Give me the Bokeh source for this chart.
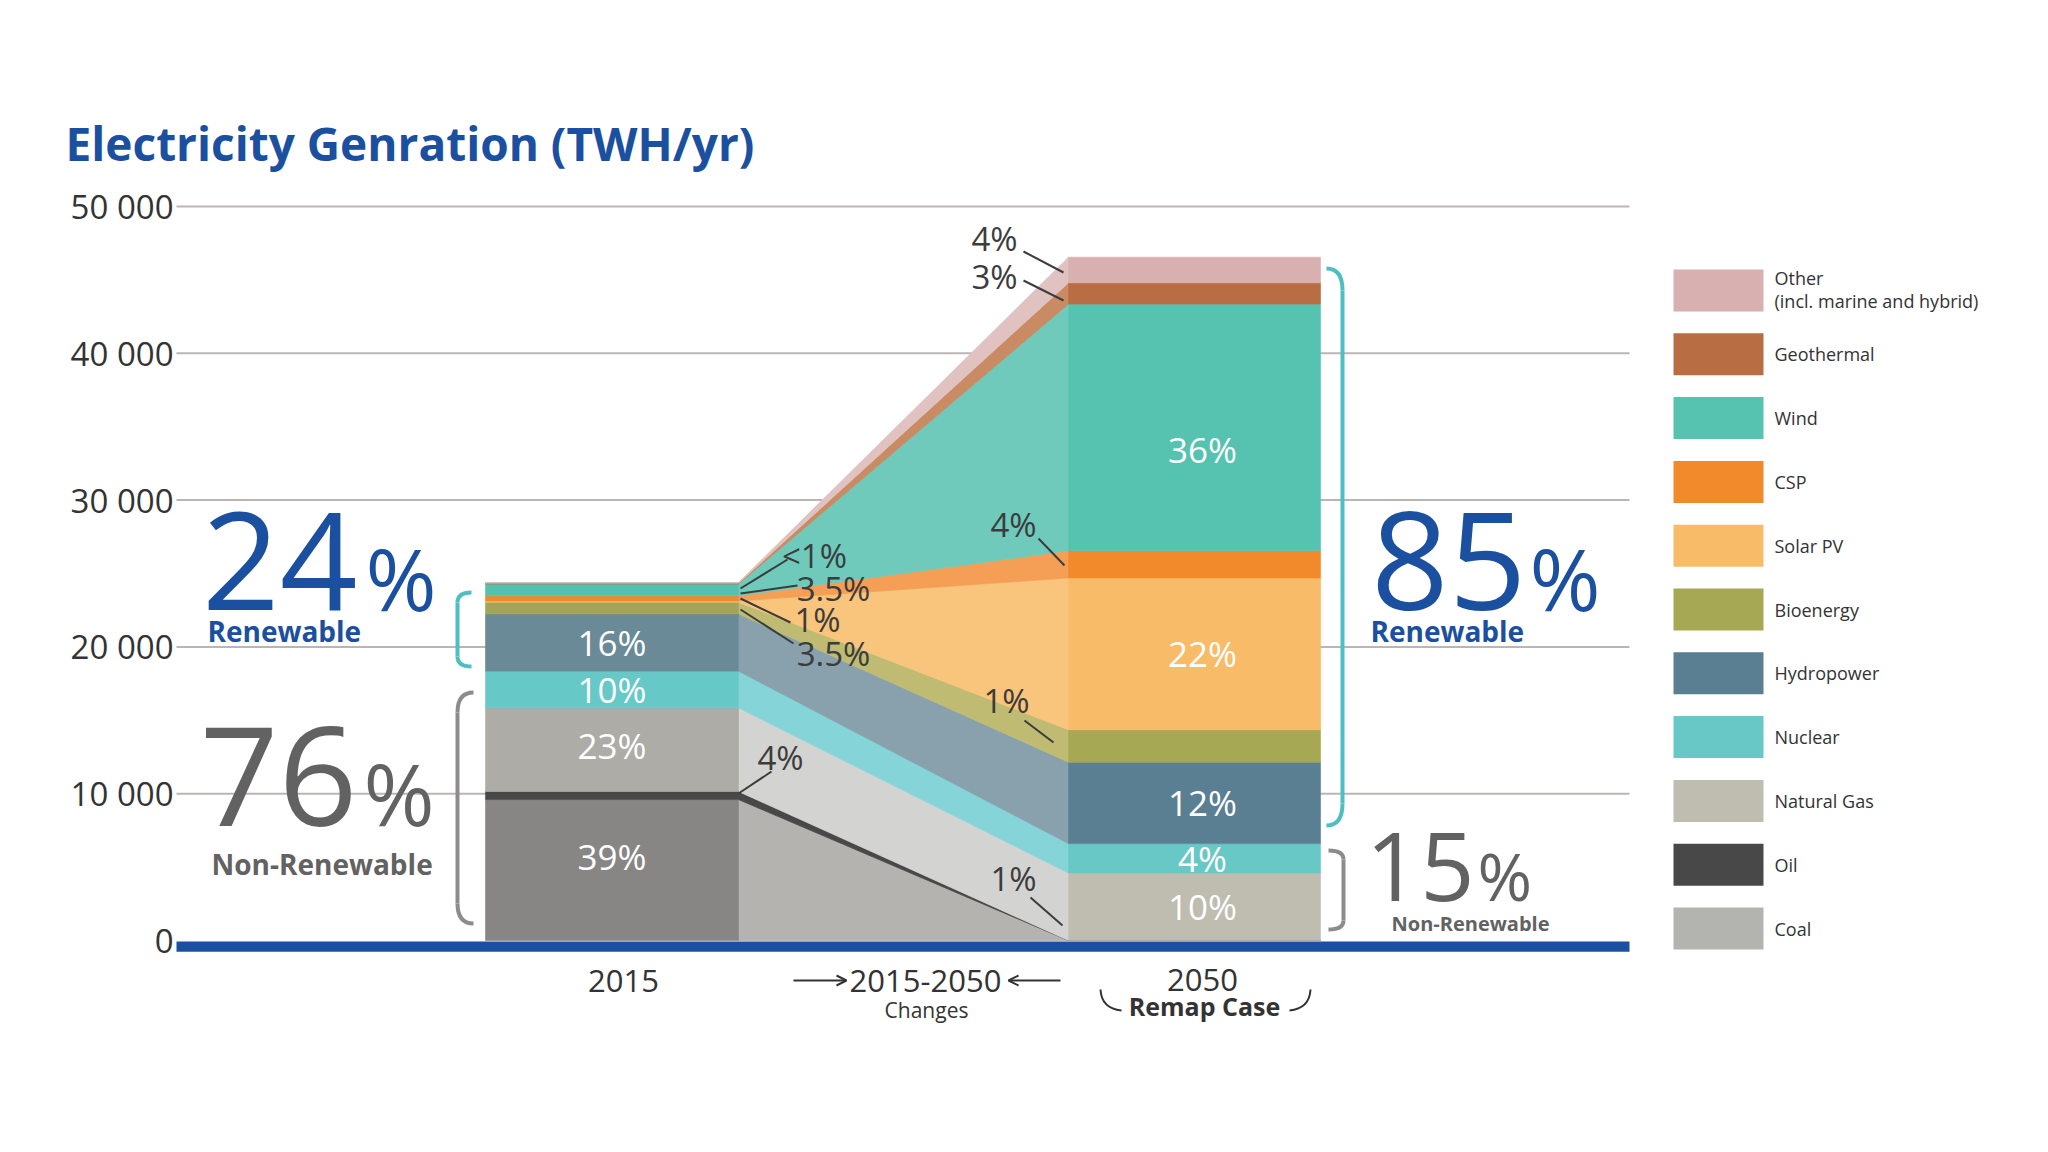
import numpy as np
from bokeh.plotting import figure
from bokeh.models import Range1d, ColumnDataSource, Arrow, OpenHead
from bokeh.core.properties import value
from bokeh.embed import file_html
from bokeh.resources import INLINE

# ---------------- data (TWh/yr) ----------------
sources = ["Coal", "Oil", "Natural Gas", "Nuclear", "Hydropower", "Bioenergy",
           "Solar PV", "CSP", "Wind", "Geothermal", "Other"]
twh_2015 = [9600, 550, 5700, 2500, 3900, 800, 80, 350, 800, 60, 40]
twh_2050 = [0, 0, 4600, 2000, 5550, 2200, 10350, 1850, 16800, 1450, 1750]
share_2015 = ["39%", "", "23%", "10%", "16%", "", "", "", "", "", ""]
share_2050 = ["", "", "10%", "4%", "12%", "", "22%", "", "36%", "", ""]
legend_labels = ["Other", "Geothermal", "Wind", "CSP", "Solar PV", "Bioenergy",
                 "Hydropower", "Nuclear", "Natural Gas", "Oil", "Coal"]
y_ticks = [0, 10000, 20000, 30000, 40000, 50000]
y_tick_labels = ["0", "10 000", "20 000", "30 000", "40 000", "50 000"]
change_labels = ["4%", "3%", "4%", "<1%", "3.5%", "1%", "3.5%", "4%", "1%", "1%"]
renew_2015, nonrenew_2015 = "24", "76"
renew_2050, nonrenew_2050 = "85", "15"
title = "Electricity Genration (TWH/yr)"

# ---------------- styles / layout ----------------
col_2015 = ["#878684", "#484848", "#adaca6", "#66c8c7", "#6a8a98", "#a4a35a",
            "#f7bc6c", "#f08a2e", "#55c2b0", "#b86e42", "#dab2b2"]
col_tr = ["#b4b3b0", "#484848", "#d3d3d1", "#85d4d8", "#88a1ac", "#bfbb72",
          "#f9c47c", "#f49f55", "#70cabc", "#c98b63", "#e0c2c1"]
col_2050 = ["#b3b3b0", "#484848", "#bebdb0", "#68c8c6", "#5a7f93", "#a6a854",
            "#f8bb68", "#f28a2c", "#55c3b0", "#b86e42", "#d9b0b0"]
dy_2015 = [-14, 0, -4, 0, 0, 0, 0, 0, 0, 0, 0]
dy_2050 = [0, 0, 0, 0, 0, 0, 0, 0, 22, 0, 0]

FONT = "Open Sans"
BLUE = "#1b4f9f"
GRAY = "#626262"
DARK = "#3c3c3c"
W, H = 2048, 1152
ZERO_PX, TOP_PX = 940, 206
PXPER = (ZERO_PX - TOP_PX) / 50000.0
X0_15, X1_15 = 485, 738
X0_50, X1_50 = 1068, 1320
GX0, GX1 = 176, 1629
BL = 0.32  # baseline correction (fraction of font size)

p = figure(width=W, height=H, x_range=Range1d(0, W),
           y_range=Range1d(-(H - ZERO_PX) / PXPER, ZERO_PX / PXPER),
           x_axis_type=None, y_axis_type=None, output_backend="svg",
           toolbar_location=None, min_border=0, outline_line_color=None,
           background_fill_color="white", border_fill_color="white")
p.extra_y_ranges = {"px": Range1d(H, 0)}

# gridlines and tick labels
gt = [t for t in y_ticks if t > 0]
p.segment(x0=GX0, y0=gt, x1=GX1, y1=gt, line_color="#bbb6b4", line_width=2)
p.text(x=[173] * len(y_ticks), y=y_ticks, text=y_tick_labels, text_align="right",
       text_baseline="middle", text_font=value(FONT), text_font_size="33px",
       text_color="#333333")

# stacked bars + transition band
c15 = np.concatenate([[0], np.cumsum(twh_2015)])
c50 = np.concatenate([[0], np.cumsum(twh_2050)])
n = len(sources)
xs = [[X1_15, X0_50, X0_50, X1_15] for _ in range(n)]
ys = [[c15[i], c50[i], c50[i + 1], c15[i + 1]] for i in range(n)]
p.patches(xs=xs, ys=ys, fill_color=col_tr, line_color=col_tr, line_width=0.8)
p.quad(left=X0_15, right=X1_15, bottom=c15[:-1], top=c15[1:],
       fill_color=col_2015, line_color=col_2015, line_width=0.6)
p.quad(left=X0_50, right=X1_50, bottom=c50[:-1], top=c50[1:],
       fill_color=col_2050, line_color=col_2050, line_width=0.6)

# blue baseline
p.quad(left=GX0, right=GX1, top=-60, bottom=-760, fill_color=BLUE, line_color=None)

# in-bar share labels
def bar_labels(cum, shares, dys, xc):
    idx = [i for i, s in enumerate(shares) if s]
    src = ColumnDataSource(dict(
        x=[xc] * len(idx),
        y=[(cum[i] + cum[i + 1]) / 2 for i in idx],
        t=[shares[i] for i in idx],
        dy=[dys[i] for i in idx]))
    p.text(x="x", y="y", text="t", y_offset="dy", source=src, text_align="center",
           text_baseline="middle", text_font=value(FONT), text_font_size="35px",
           text_color="white")

bar_labels(c15, share_2015, dy_2015, (X0_15 + X1_15) / 2)
bar_labels(c50, share_2050, dy_2050, (X0_50 + X1_50) / 2 + 8)

# leader labels for the transition (positions in screen px)
lead_pos = [(994, 238, 1023, 251, 1063, 272),
            (994, 276, 1023, 280, 1063, 300),
            (1013, 524, 1038, 538, 1064, 565),
            (814, 555, 740, 588, 787, 559),
            (833, 588, 740, 593, 797, 585),
            (817, 619, 740, 598, 790, 622),
            (833, 653, 740, 609, 793, 643),
            (780, 757, 738, 793, 771, 771),
            (1006, 700, 1024, 720, 1053, 742),
            (1013, 878, 1030, 897, 1062, 925)]
p.segment(x0=[a[2] for a in lead_pos], y0=[a[3] for a in lead_pos],
          x1=[a[4] for a in lead_pos], y1=[a[5] for a in lead_pos],
          line_color=DARK, line_width=2, y_range_name="px")
p.text(x=[a[0] for a in lead_pos], y=[a[1] for a in lead_pos], text=change_labels,
       text_align="center", text_baseline="middle", text_font=value(FONT),
       text_font_size="33px", text_color=DARK, y_range_name="px")

# brackets
def bracket(x_end, x_spine, y_top, y_bot, r, color, lw=4):
    p.quadratic(x0=[x_end, x_spine], y0=[y_top, y_bot - r],
                x1=[x_spine, x_end], y1=[y_top + r, y_bot],
                cx=[x_spine, x_spine], cy=[y_top, y_bot],
                line_color=color, line_width=lw, y_range_name="px")
    p.segment(x0=[x_spine], y0=[y_top + r], x1=[x_spine], y1=[y_bot - r],
              line_color=color, line_width=lw, y_range_name="px")

bracket(471, 457, 592, 666, 10, "#4dbfc3")
bracket(473, 457, 692, 923, 20, "#8c8c8c")
bracket(1326, 1342, 268, 825, 22, "#4dbfc3")
bracket(1328, 1343, 850, 929, 9, "#8c8c8c")

def txt(x, y, s, fs, color, align="left", bold=False):
    p.text(x=[x], y=[y - BL * fs], text=[s], text_align=align,
           text_baseline="alphabetic", text_font=value(FONT),
           text_font_size=f"{fs}px", text_font_style="bold" if bold else "normal",
           text_color=color, y_range_name="px")

# big summary numbers
def big(num, color, x_right, x_pct, base, fs, pfs, sub, sub_x, sub_base, sfs):
    txt(x_right, base, num, fs, color, align="right")
    txt(x_pct, base, "%", pfs, color)
    txt(sub_x, sub_base, sub, sfs, color, bold=True)

big(renew_2015, BLUE, 357, 365, 605, 136, 86, "Renewable", 207, 639, 28)
big(nonrenew_2015, GRAY, 357, 363, 820, 138, 86, "Non-Renewable", 211, 872, 28)
big(renew_2050, BLUE, 1526, 1529, 605, 136, 86, "Renewable", 1370, 639, 28)
big(nonrenew_2050, GRAY, 1474, 1477, 896, 95, 66, "Non-Renewable", 1391, 929, 20)

# title
txt(65, 157, title, 46, BLUE, bold=True)

# category labels
p.text(x=[623, 925, 1202], y=[980, 980, 979], text=["2015", "2015-2050", "2050"],
       text_align="center", text_baseline="middle", text_font=value(FONT),
       text_font_size="31px", text_color="#333333", y_range_name="px")
p.text(x=[926], y=[1009], text=["Changes"], text_align="center",
       text_baseline="middle", text_font=value(FONT), text_font_size="21px",
       text_color="#333333", y_range_name="px")
p.text(x=[1204], y=[1005], text=["Remap Case"], text_align="center",
       text_baseline="middle", text_font=value(FONT), text_font_size="25px",
       text_font_style="bold", text_color="#333333", y_range_name="px")
p.quadratic(x0=[1100, 1310], y0=[989, 989], x1=[1121, 1289], y1=[1010, 1010],
            cx=[1101, 1309], cy=[1008, 1008], line_color="#333333", line_width=2,
            y_range_name="px")
for xs_, xe_ in [(793, 846), (1060, 1008)]:
    p.add_layout(Arrow(end=OpenHead(size=10, line_width=2, line_color="#333333"),
                       x_start=xs_, y_start=980, x_end=xe_, y_end=980,
                       line_width=2, line_color="#333333", y_range_name="px"))

# legend
leg_cols = col_2050[::-1]
ly = [290 + 63.8 * i for i in range(len(legend_labels))]
p.quad(left=1673, right=1763, top=[y - 21 for y in ly], bottom=[y + 21 for y in ly],
       fill_color=leg_cols, line_color=None, y_range_name="px")
lab_y = list(ly)
lab_y[0] = 277
p.text(x=[1774] * len(legend_labels), y=lab_y, text=legend_labels, text_align="left",
       text_baseline="middle", text_font=value(FONT), text_font_size="18px",
       text_color="#333333", y_range_name="px")
p.text(x=[1774], y=[300], text=["(incl. marine and hybrid)"], text_align="left",
       text_baseline="middle", text_font=value(FONT), text_font_size="18px",
       text_color="#333333", y_range_name="px")

open("out.html", "w").write(file_html(p, INLINE))
